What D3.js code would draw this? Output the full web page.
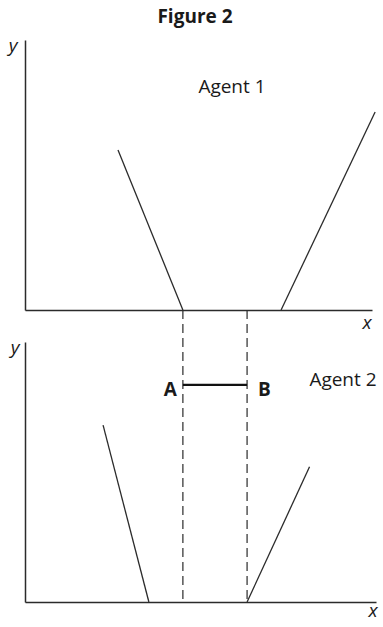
<!DOCTYPE html>
<html>
<head>
<meta charset="utf-8">
<script src="https://cdn.jsdelivr.net/npm/d3@7"></script>
<style>
  body { margin: 0; background: #fff; }
  svg { display: block; }
  text { font-family: "Open Sans", "Noto Sans", sans-serif; fill: #1a1a1a; }
</style>
</head>
<body>
<div id="chart"></div>
<script>
// two agents, each panel has a left and right segment (x, y in 0..100 units)
const agent1Left = [[26.8, 59.3], [45.5, 0]];
const agent1Right = [[73.8, 0], [100.9, 73.3]];
const agent2Left = [[22.5, 68], [35.7, 0]];
const agent2Right = [[64, 0], [82, 52]];
const segAB = [[45.5, 83.5], [64, 83.5]];
const guideX = [45.5, 64];
const panelTitles = ["Agent 1", "Agent 2"];

const width = 383, height = 627;

const svg = d3.select("#chart").append("svg")
	.attr("width", width)
	.attr("height", height);

const x = d3.scaleLinear().domain([0, 100]).range([25, 372]);
const x2 = d3.scaleLinear().domain([0, 100]).range([25, 376]);
const y1 = d3.scaleLinear().domain([0, 100]).range([310, 40]);
const y2 = d3.scaleLinear().domain([0, 100]).range([602, 342]);

const ink = "#2b2b2b";

svg.append("text")
	.attr("x", 195).attr("y", 23)
	.attr("text-anchor", "middle")
	.attr("font-size", 19).attr("font-weight", 700)
	.text("Figure 2");

// axes: plain lines, no ticks
function drawAxes(xs, ys) {
	svg.append("g")
		.attr("transform", `translate(0,${ys(0)})`)
		.call(d3.axisBottom(xs).tickValues([]).tickSizeOuter(0))
		.call(g => g.select(".domain").attr("stroke", ink).attr("stroke-width", 1.5));
	svg.append("g")
		.attr("transform", `translate(${xs(0)},0)`)
		.call(d3.axisLeft(ys).tickValues([]).tickSizeOuter(0))
		.call(g => g.select(".domain").attr("stroke", ink).attr("stroke-width", 1.5));
}
drawAxes(x, y1);
drawAxes(x2, y2);

// dashed guides from top axis down to bottom axis
svg.append("g")
	.selectAll("line")
	.data(guideX)
	.join("line")
		.attr("x1", d => x(d)).attr("x2", d => x(d))
		.attr("y1", y1(0)).attr("y2", y2(0))
		.attr("stroke", ink).attr("stroke-width", 1.2)
		.attr("stroke-dasharray", "9,5");

const line1 = d3.line().x(d => x(d[0])).y(d => y1(d[1]));
const line2 = d3.line().x(d => x(d[0])).y(d => y2(d[1]));

svg.append("g")
	.attr("fill", "none").attr("stroke", ink).attr("stroke-width", 1.3)
	.call(g => g.append("path").attr("d", line1(agent1Left)))
	.call(g => g.append("path").attr("d", line1(agent1Right)))
	.call(g => g.append("path").attr("d", line2(agent2Left)))
	.call(g => g.append("path").attr("d", line2(agent2Right)));

svg.append("path")
	.attr("d", line2(segAB))
	.attr("fill", "none").attr("stroke", "#111").attr("stroke-width", 2.2);

// A / B labels
svg.append("text")
	.attr("x", x(segAB[0][0]) - 6).attr("y", y2(segAB[0][1]) + 11)
	.attr("text-anchor", "end").attr("font-size", 19).attr("font-weight", 700)
	.text("A");
svg.append("text")
	.attr("x", x(segAB[1][0]) + 11).attr("y", y2(segAB[1][1]) + 11)
	.attr("font-size", 19).attr("font-weight", 700)
	.text("B");

svg.append("text")
	.attr("x", 232).attr("y", 93)
	.attr("text-anchor", "middle").attr("font-size", 19)
	.text(panelTitles[0]);
svg.append("text")
	.attr("x", 343).attr("y", 386)
	.attr("text-anchor", "middle").attr("font-size", 19)
	.text(panelTitles[1]);

// axis letters
const axisLabels = [
	{t: "y", x: 13, y: 52},
	{t: "x", x: 367, y: 329},
	{t: "y", x: 15, y: 354},
	{t: "x", x: 373, y: 617}
];
svg.append("g")
	.selectAll("text")
	.data(axisLabels)
	.join("text")
		.attr("x", d => d.x).attr("y", d => d.y)
		.attr("text-anchor", "middle")
		.attr("font-size", 19).attr("font-style", "italic")
		.text(d => d.t);
</script>
</body>
</html>
